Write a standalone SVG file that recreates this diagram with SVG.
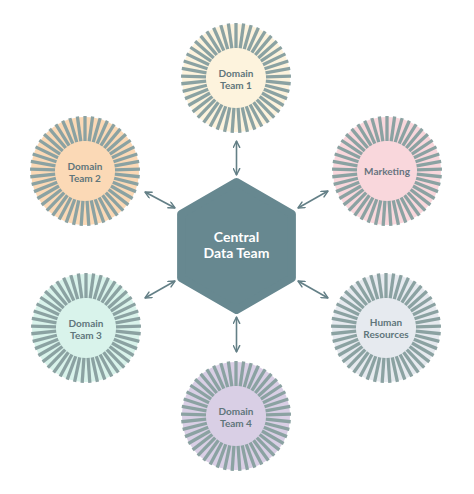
<svg xmlns="http://www.w3.org/2000/svg" xmlns:xlink="http://www.w3.org/1999/xlink" width="474" height="494" viewBox="0 0 474 494">
<style>
.lbl{font-family:Lato,"Open Sans","Liberation Sans",sans-serif;font-weight:700;font-size:10px;fill:#5f767b;text-anchor:middle}
.hex{font-family:Lato,"Open Sans","Liberation Sans",sans-serif;font-weight:700;font-size:14px;fill:#ffffff;text-anchor:middle}
.conn{stroke:#637f86;stroke-width:1.6;fill:none;marker-start:url(#ah);marker-end:url(#ah)}
</style>
<defs>
<marker id="ah" viewBox="0 0 10 10" refX="9" refY="5" markerWidth="5" markerHeight="5" orient="auto-start-reverse" markerUnits="strokeWidth">
<path d="M1,1 L9,5 L1,9" fill="none" stroke="#637f86" stroke-width="1.8" stroke-linecap="round" stroke-linejoin="round"/>
</marker>
<line id="bar" x1="0" y1="-30" x2="0" y2="-55" stroke="#8ba2a2" stroke-width="3.3"/>
<g id="ring">
<use href="#bar" transform="rotate(0)"/><use href="#bar" transform="rotate(8)"/><use href="#bar" transform="rotate(16)"/><use href="#bar" transform="rotate(24)"/><use href="#bar" transform="rotate(32)"/>
<use href="#bar" transform="rotate(40)"/><use href="#bar" transform="rotate(48)"/><use href="#bar" transform="rotate(56)"/><use href="#bar" transform="rotate(64)"/><use href="#bar" transform="rotate(72)"/>
<use href="#bar" transform="rotate(80)"/><use href="#bar" transform="rotate(88)"/><use href="#bar" transform="rotate(96)"/><use href="#bar" transform="rotate(104)"/><use href="#bar" transform="rotate(112)"/>
<use href="#bar" transform="rotate(120)"/><use href="#bar" transform="rotate(128)"/><use href="#bar" transform="rotate(136)"/><use href="#bar" transform="rotate(144)"/><use href="#bar" transform="rotate(152)"/>
<use href="#bar" transform="rotate(160)"/><use href="#bar" transform="rotate(168)"/><use href="#bar" transform="rotate(176)"/><use href="#bar" transform="rotate(184)"/><use href="#bar" transform="rotate(192)"/>
<use href="#bar" transform="rotate(200)"/><use href="#bar" transform="rotate(208)"/><use href="#bar" transform="rotate(216)"/><use href="#bar" transform="rotate(224)"/><use href="#bar" transform="rotate(232)"/>
<use href="#bar" transform="rotate(240)"/><use href="#bar" transform="rotate(248)"/><use href="#bar" transform="rotate(256)"/><use href="#bar" transform="rotate(264)"/><use href="#bar" transform="rotate(272)"/>
<use href="#bar" transform="rotate(280)"/><use href="#bar" transform="rotate(288)"/><use href="#bar" transform="rotate(296)"/><use href="#bar" transform="rotate(304)"/><use href="#bar" transform="rotate(312)"/>
<use href="#bar" transform="rotate(320)"/><use href="#bar" transform="rotate(328)"/><use href="#bar" transform="rotate(336)"/><use href="#bar" transform="rotate(344)"/><use href="#bar" transform="rotate(352)"/>
</g>
</defs>
<rect width="474" height="494" fill="#ffffff"/>
<g id="connectors">
<line class="conn" x1="236.5" y1="141" x2="236.5" y2="175"/>
<line class="conn" x1="145" y1="192" x2="175" y2="208"/>
<line class="conn" x1="298" y1="208" x2="328" y2="191"/>
<line class="conn" x1="145" y1="298" x2="175" y2="281"/>
<line class="conn" x1="298" y1="281" x2="328" y2="298"/>
<line class="conn" x1="236.5" y1="317" x2="236.5" y2="352"/>
</g>
<g id="central">
<polygon points="236.5,182 291.9,214 291.9,278 236.5,310 181.1,278 181.1,214" fill="#678890" stroke="#678890" stroke-width="8" stroke-linejoin="round"/>
<text class="hex" x="236.5" y="242">Central</text>
<text class="hex" x="236.5" y="258">Data Team</text>
</g>
<g id="domain-team-1" transform="translate(236,78)">
<circle r="54" fill="#fdf3dd"/>
<use href="#ring"/>
<text class="lbl" y="-1">Domain</text>
<text class="lbl" y="11">Team 1</text>
</g>
<g id="domain-team-2" transform="translate(85,171)">
<circle r="54" fill="#fbd9b6"/>
<use href="#ring"/>
<text class="lbl" y="-1">Domain</text>
<text class="lbl" y="11">Team 2</text>
</g>
<g id="marketing" transform="translate(387,171)">
<circle r="54" fill="#f9d7dc"/>
<use href="#ring"/>
<text class="lbl" y="4" style="fill:#67747f">Marketing</text>
</g>
<g id="domain-team-3" transform="translate(86,328)">
<circle r="54" fill="#d9f3eb"/>
<use href="#ring"/>
<text class="lbl" y="-1">Domain</text>
<text class="lbl" y="11">Team 3</text>
</g>
<g id="human-resources" transform="translate(386,328)">
<circle r="54" fill="#e6eaef"/>
<use href="#ring"/>
<text class="lbl" y="-2">Human</text>
<text class="lbl" y="10">Resources</text>
</g>
<g id="domain-team-4" transform="translate(236,416)">
<circle r="54" fill="#d9cfe5"/>
<use href="#ring"/>
<text class="lbl" y="-1">Domain</text>
<text class="lbl" y="11">Team 4</text>
</g>
</svg>
